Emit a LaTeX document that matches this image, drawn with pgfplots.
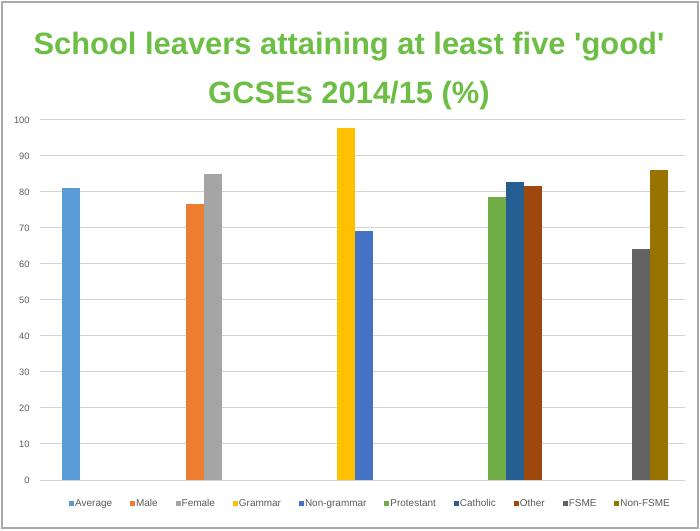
\documentclass[border=0pt]{standalone}
\usepackage{pgfplots}
\pgfplotsset{compat=1.18}
\usepackage{fontspec}
\setmainfont{Liberation Sans}
\definecolor{cavg}{HTML}{5B9BD5}
\definecolor{cmale}{HTML}{ED7D31}
\definecolor{cfemale}{HTML}{A5A5A5}
\definecolor{cgram}{HTML}{FFC000}
\definecolor{cnongram}{HTML}{4472C4}
\definecolor{cprot}{HTML}{70AD47}
\definecolor{ccath}{HTML}{255E91}
\definecolor{cother}{HTML}{9E480E}
\definecolor{cfsme}{HTML}{636363}
\definecolor{cnonfsme}{HTML}{997300}
\definecolor{titlegreen}{HTML}{6CBE45}
\definecolor{gridgray}{HTML}{D4D4D4}
\definecolor{txtgray}{HTML}{595959}
\definecolor{bordergray}{HTML}{A9A9A9}
\begin{document}
\begin{tikzpicture}
\useasboundingbox (0bp,0bp) rectangle (700bp,531bp);
\draw[line width=2bp, color=bordergray] (2bp,3bp) rectangle (698bp,529bp);
\node[anchor=base, text=titlegreen, font=\fontsize{31}{31}\selectfont\bfseries, inner sep=0pt] at (349bp,476bp) {School leavers attaining at least five \textquotesingle good\textquotesingle};
\node[anchor=base, text=titlegreen, font=\fontsize{31}{31}\selectfont\bfseries, inner sep=0pt] at (349bp,427.7bp) {GCSEs 2014/15 (\%)};
\begin{axis}[
  at={(40bp,51bp)}, anchor=south west,
  scale only axis, width=645bp, height=360bp,
  xmin=40, xmax=685, ymin=0, ymax=100,
  ytick={0,10,...,100}, xtick=\empty,
  ymajorgrids, grid style={color=gridgray, line width=1bp},
  axis line style={draw=none}, major tick length=0pt,
  yticklabel style={font=\fontsize{9.3}{9.3}\selectfont, text=txtgray, xshift=-7bp},
  /pgf/number format/assume math mode=true,
  legend columns=10,
  legend style={at={(0.5116,-0.065)}, anchor=center, draw=none, fill=none,
    font=\fontsize{10}{10}\selectfont, text=txtgray,
    nodes={inner sep=1bp},
    /tikz/every even column/.append style={column sep=17bp}},
  legend image code/.code={\fill[#1] (0bp,-2.5bp) rectangle (5bp,2.5bp);},
]
\addplot[ybar, bar width=18, bar shift=0pt, fill=cavg, draw=none] coordinates {(71,81.0)};
\addlegendentry{Average}
\addplot[ybar, bar width=18, bar shift=0pt, fill=cmale, draw=none] coordinates {(195,76.7)};
\addlegendentry{Male}
\addplot[ybar, bar width=18, bar shift=0pt, fill=cfemale, draw=none] coordinates {(213,85.1)};
\addlegendentry{Female}
\addplot[ybar, bar width=18, bar shift=0pt, fill=cgram, draw=none] coordinates {(346,97.8)};
\addlegendentry{Grammar}
\addplot[ybar, bar width=18, bar shift=0pt, fill=cnongram, draw=none] coordinates {(364,69.3)};
\addlegendentry{Non-grammar}
\addplot[ybar, bar width=18, bar shift=0pt, fill=cprot, draw=none] coordinates {(497,78.7)};
\addlegendentry{Protestant}
\addplot[ybar, bar width=18, bar shift=0pt, fill=ccath, draw=none] coordinates {(515,82.7)};
\addlegendentry{Catholic}
\addplot[ybar, bar width=18, bar shift=0pt, fill=cother, draw=none] coordinates {(533,81.6)};
\addlegendentry{Other}
\addplot[ybar, bar width=18, bar shift=0pt, fill=cfsme, draw=none] coordinates {(641,64.3)};
\addlegendentry{FSME}
\addplot[ybar, bar width=18, bar shift=0pt, fill=cnonfsme, draw=none] coordinates {(659,86.1)};
\addlegendentry{Non-FSME}
\end{axis}
\end{tikzpicture}
\end{document}
